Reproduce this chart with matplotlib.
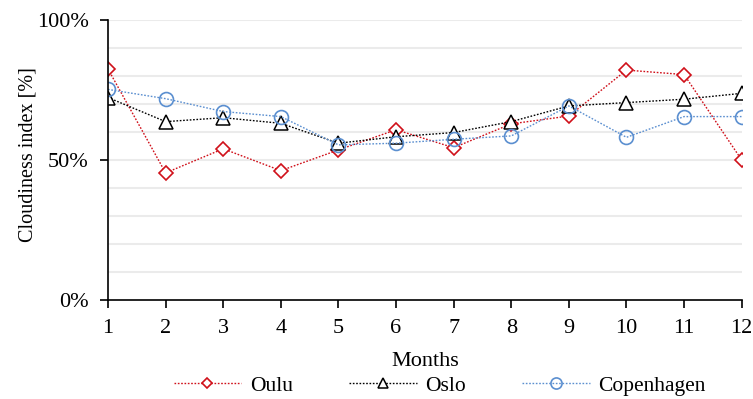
import matplotlib.pyplot as plt
import numpy as np

plt.rcParams['font.family'] = ['Liberation Serif', 'DejaVu Serif']

months = np.arange(1, 13)
oulu = [82.5, 45.4, 54.0, 46.2, 53.6, 60.8, 54.4, 62.9, 65.7, 82.1, 80.5, 50.0]
oslo = [72.3, 63.7, 65.1, 63.1, 56.0, 58.3, 59.8, 63.7, 69.3, 70.5, 71.7, 73.8]
copenhagen = [75.2, 71.9, 67.3, 65.5, 55.4, 56.0, 57.4, 58.6, 69.3, 58.1, 65.5, 65.5]

fig = plt.figure(figsize=(7.53, 3.99), dpi=100)
ax = fig.add_axes([0.1434, 0.248, 0.8416, 0.702])

for v in range(10, 101, 10):
    ax.axhline(v, color='#ebebeb', lw=1.5, zorder=0)

ax.plot(months, oulu, color='#d0101a', ls=(0, (1.2, 1.2)), lw=1, marker='D',
        ms=7, mfc='white', mec='#d0101a', mew=1.2, label='Oulu')
ax.plot(months, oslo, color='black', ls=(0, (1.2, 1.2)), lw=1, marker='^',
        ms=9.5, mfc='white', mec='black', mew=1.1, label='Oslo')
ax.plot(months, copenhagen, color='#5b8fd0', ls=(0, (1.2, 1.2)), lw=1, marker='o',
        ms=10, mfc='none', mec='#5b8fd0', mew=1.2, label='Copenhagen')

ax.set_xlim(1, 12)
ax.set_ylim(0, 100)
ax.set_xticks(months)
ax.set_yticks([0, 50, 100])
ax.set_yticklabels(['0%', '50%', '100%'])
ax.tick_params(axis='both', labelsize=16, direction='out', length=6, width=1.2)
ax.tick_params(axis='y', pad=8)
ax.tick_params(axis='x', pad=8)
for s in ['top', 'right']:
    ax.spines[s].set_visible(False)
for s in ['left', 'bottom']:
    ax.spines[s].set_linewidth(1.2)
ax.set_xlabel('Months', fontsize=16, labelpad=10)
ax.set_ylabel('Cloudiness index [%]', fontsize=14.5, labelpad=4)
ax.yaxis.set_label_coords(-0.112, 0.52)

fig.legend(loc='lower center', bbox_to_anchor=(0.584, -0.04), ncol=3, frameon=False,
           fontsize=15.5, handlelength=3.15, columnspacing=2.6, handletextpad=0.4,
           markerscale=0.8)

fig.savefig('out.png', dpi=100)
